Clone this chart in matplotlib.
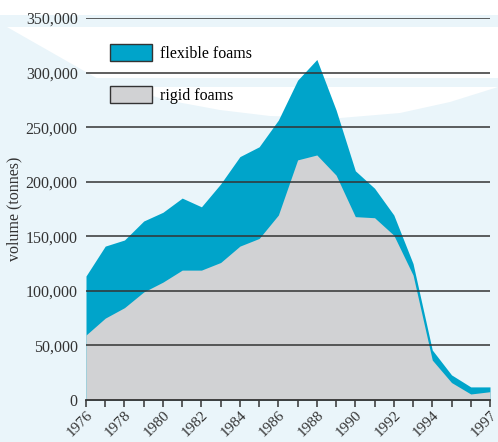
import numpy as np
import matplotlib.pyplot as plt
from matplotlib.patches import Polygon, Rectangle, Patch

years = np.arange(1976, 1998)
total = [113600, 141000, 146600, 164000, 172000, 185000, 177000, 198000,
         223000, 232000, 256500, 293000, 312000, 265700, 210000, 194000,
         169500, 125000, 45800, 23000, 12000, 12000]
rigid = [59500, 75000, 84600, 99000, 108000, 119000, 119000, 126000,
         141000, 148000, 169500, 220000, 224500, 206000, 168000, 167000,
         151000, 114500, 36600, 16000, 5500, 7600]
tick_labels = ["1976", "", "1978", "", "1980", "", "1982", "", "1984", "",
               "1986", "", "1988", "", "1990", "", "1992", "", "1994", "", "", "1997"]

blue = "#00a4ca"
grey = "#d1d2d4"
bg = "#eaf5fa"
dark = "#333333"

plt.rcParams['font.family'] = ['Liberation Serif', 'DejaVu Serif']

W, H = 498, 442
fig = plt.figure(figsize=(W / 100, H / 100), dpi=100, facecolor=bg)

def px(pts):
    return [(x / W, 1 - y / H) for x, y in pts]

# decorative background swoosh
fig.patches.append(Rectangle((0, 1 - 15 / H), 1, 15 / H, transform=fig.transFigure,
                             facecolor="white", edgecolor="none", zorder=-10))
swoosh = [(7, 27), (498, 27), (498, 87), (450, 102), (400, 113), (340, 118),
          (270, 116), (220, 110), (166, 100), (100, 80)]
fig.patches.append(Polygon(px(swoosh), closed=True, transform=fig.transFigure,
                           facecolor="white", edgecolor="none", zorder=-10))
fig.patches.append(Rectangle((86 / W, 1 - 87 / H), 1 - 86 / W, 9 / H, transform=fig.transFigure,
                             facecolor=bg, edgecolor="none", zorder=-9))

ax = fig.add_axes([86 / W, 1 - 400 / H, 404 / W, 382 / H])
ax.patch.set_visible(False)

ax.fill_between(years, 0, total, color=blue, lw=0, zorder=1)
ax.fill_between(years, 0, rigid, color=grey, lw=0, zorder=2)

for v in range(50000, 350001, 50000):
    ax.axhline(v, color=dark, lw=1.1, zorder=3)

ax.set_xlim(1976, 1997)
ax.set_ylim(0, 350000)
ax.set_yticks(range(0, 350001, 50000))
ax.set_yticklabels([f"{v:,}" for v in range(0, 350001, 50000)], fontsize=11.5, color=dark)
ax.tick_params(axis='y', length=0, pad=6)
ax.set_xticks(years)
ax.set_xticklabels(tick_labels, rotation=45, ha='right', va='top',
                   rotation_mode='anchor', fontsize=11, color=dark)
ax.tick_params(axis='x', length=5, width=1.1, color=dark, pad=1)
for s in ['left', 'right', 'top']:
    ax.spines[s].set_visible(False)
ax.spines['bottom'].set_color(dark)
ax.spines['bottom'].set_linewidth(1.3)
ax.spines['bottom'].set_zorder(4)

ax.set_ylabel("volume (tonnes)", fontsize=11.5, color=dark, labelpad=2)

handles = [Patch(facecolor=blue, edgecolor=dark, lw=1, label="flexible foams"),
           Patch(facecolor=grey, edgecolor=dark, lw=1, label="rigid foams")]
ax.legend(handles=handles, loc='upper left', bbox_to_anchor=(96 / W, 1 - 30 / H),
          bbox_transform=fig.transFigure, frameon=False, fontsize=11.5,
          handlelength=2.6, handleheight=1.25, labelspacing=1.5, handletextpad=0.5)

plt.savefig("out.png", dpi=100, facecolor=bg)
